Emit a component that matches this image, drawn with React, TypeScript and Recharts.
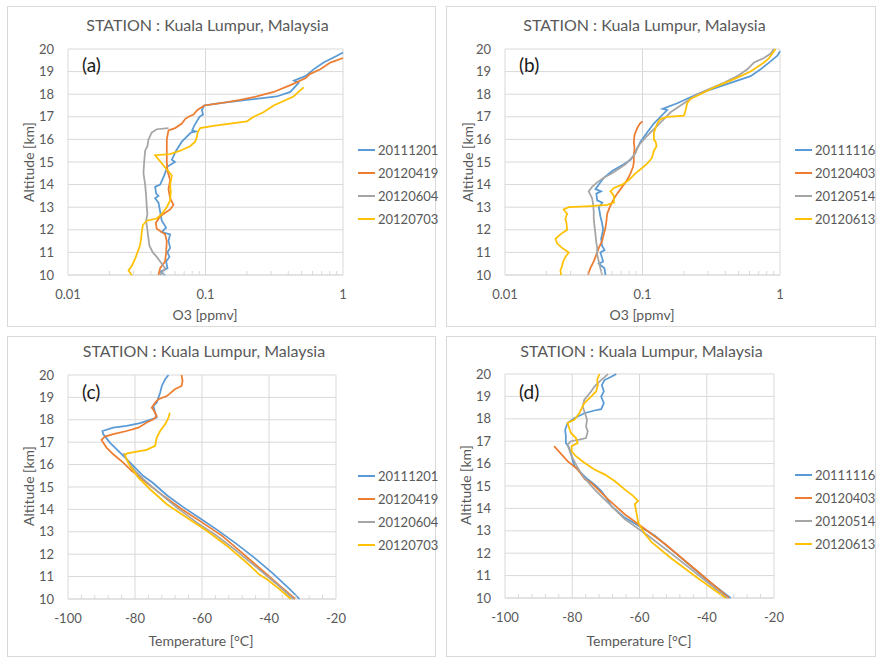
import React from 'react';
import { ScatterChart, Scatter, XAxis, YAxis, CartesianGrid, ReferenceLine } from 'recharts';

const FONT = 'Lato, "Liberation Sans", sans-serif';
const TEXT = '#595959';
const GRID = '#d9d9d9';
const COLORS = ['#5B9BD5', '#ED7D31', '#A5A5A5', '#FFC000'];

const TITLE = 'STATION : Kuala Lumpur, Malaysia';
const DATES_AC = ['20111201', '20120419', '20120604', '20120703'];
const DATES_BD = ['20111116', '20120403', '20120514', '20120613'];

const ALT_TICKS = [10, 11, 12, 13, 14, 15, 16, 17, 18, 19, 20];
const O3_TICKS = [0.01, 0.02, 0.03, 0.04, 0.05, 0.06, 0.07, 0.08, 0.09, 0.1, 0.2, 0.3, 0.4, 0.5, 0.6, 0.7, 0.8, 0.9, 1];
const O3_MAJOR = [0.01, 0.1, 1];
const T_TICKS = [-100, -96, -92, -88, -84, -80, -76, -72, -68, -64, -60, -56, -52, -48, -44, -40, -36, -32, -28, -24, -20];
const T_MAJOR = [-100, -80, -60, -40, -20];

// (a) ozone, [ppmv, km]
const A_20111201 = [[0.0508, 10.0], [0.047, 10.15], [0.0529, 10.3], [0.0517, 10.6], [0.0547, 10.8], [0.0529, 11.0], [0.0553, 11.2], [0.0538, 11.5], [0.0553, 11.8], [0.0481, 11.9], [0.0517, 12.1], [0.0481, 12.4], [0.0468, 12.8], [0.0455, 13.2], [0.043, 13.4], [0.0455, 13.5], [0.0438, 13.6], [0.043, 13.9], [0.0468, 14.0], [0.05, 14.4], [0.0529, 14.8], [0.06, 15.0], [0.0569, 15.1], [0.0611, 15.5], [0.0673, 15.9], [0.0782, 16.3], [0.085, 16.35], [0.08, 16.4], [0.0827, 16.6], [0.0904, 17.0], [0.096, 17.1], [0.094, 17.3], [0.0978, 17.5], [0.128, 17.6], [0.2, 17.75], [0.33, 17.9], [0.414, 18.1], [0.475, 18.5], [0.44, 18.6], [0.532, 18.8], [0.611, 19.1], [0.723, 19.4], [0.904, 19.7], [1.0, 19.85]];
const A_20120419 = [[0.0455, 10.0], [0.0468, 10.3], [0.0508, 10.6], [0.0517, 11.0], [0.0523, 11.5], [0.0508, 11.8], [0.0442, 12.05], [0.0435, 12.3], [0.0468, 12.6], [0.0553, 12.9], [0.0585, 13.1], [0.0553, 13.4], [0.0538, 13.8], [0.0553, 14.2], [0.0529, 14.6], [0.0523, 15.0], [0.0523, 15.5], [0.0523, 16.0], [0.0538, 16.4], [0.0601, 16.5], [0.0673, 16.7], [0.0711, 16.9], [0.0752, 17.0], [0.0818, 17.1], [0.0875, 17.3], [0.0978, 17.5], [0.128, 17.6], [0.179, 17.75], [0.236, 17.9], [0.313, 18.1], [0.414, 18.4], [0.532, 18.7], [0.578, 18.9], [0.684, 19.1], [0.809, 19.4], [1.0, 19.6]];
const A_20120604 = [[0.0468, 10.0], [0.0508, 10.3], [0.0468, 10.6], [0.0442, 10.8], [0.0414, 11.0], [0.0391, 11.3], [0.0385, 11.6], [0.0378, 12.0], [0.037, 12.4], [0.0378, 12.7], [0.0374, 13.0], [0.037, 13.5], [0.0364, 14.0], [0.0354, 14.5], [0.0358, 15.0], [0.0364, 15.5], [0.0378, 15.7], [0.0385, 16.0], [0.0406, 16.3], [0.0442, 16.45], [0.0538, 16.5]];
const A_20120703 = [[0.0291, 10.0], [0.0275, 10.2], [0.0291, 10.4], [0.0307, 10.7], [0.032, 11.0], [0.0334, 11.3], [0.034, 11.6], [0.0344, 11.9], [0.035, 12.2], [0.0374, 12.4], [0.0442, 12.5], [0.0481, 12.7], [0.0523, 13.0], [0.0553, 13.3], [0.0559, 13.7], [0.0553, 14.0], [0.0569, 14.4], [0.043, 15.3], [0.0553, 15.35], [0.0654, 15.5], [0.0773, 15.7], [0.0841, 15.9], [0.0865, 16.1], [0.0875, 16.3], [0.0915, 16.5], [0.114, 16.6], [0.151, 16.7], [0.2, 16.8], [0.224, 17.0], [0.264, 17.2], [0.313, 17.5], [0.37, 17.7], [0.437, 17.9], [0.475, 18.1], [0.517, 18.3]];

// (b) ozone, [ppmv, km]
const B_20111116 = [[0.0538, 10.0], [0.0529, 10.3], [0.0481, 10.5], [0.0517, 10.6], [0.0494, 11.0], [0.053, 11.1], [0.0508, 11.3], [0.05, 11.6], [0.0517, 12.0], [0.0508, 12.3], [0.0494, 12.6], [0.0481, 13.0], [0.051, 13.2], [0.0468, 13.3], [0.0462, 13.6], [0.05, 13.7], [0.0455, 13.8], [0.0481, 14.0], [0.0523, 14.3], [0.0601, 14.6], [0.0731, 14.9], [0.0818, 15.1], [0.0865, 15.3], [0.0915, 15.6], [0.0967, 15.9], [0.1023, 16.1], [0.111, 16.4], [0.121, 16.7], [0.135, 17.0], [0.151, 17.3], [0.14, 17.35], [0.179, 17.6], [0.211, 17.8], [0.25, 18.0], [0.313, 18.2], [0.437, 18.5], [0.611, 18.8], [0.723, 19.1], [0.832, 19.4], [0.957, 19.7], [1.0, 19.9]];
const B_20120403 = [[0.04, 10.0], [0.0418, 10.3], [0.0442, 10.6], [0.0462, 10.9], [0.0481, 11.2], [0.0508, 11.5], [0.0523, 11.8], [0.0538, 12.1], [0.0547, 12.4], [0.0553, 12.7], [0.0578, 13.0], [0.0611, 13.3], [0.0654, 13.6], [0.0711, 13.9], [0.0773, 14.2], [0.0818, 14.5], [0.0855, 14.8], [0.0865, 15.0], [0.0865, 15.3], [0.0875, 15.6], [0.0865, 15.9], [0.0875, 16.2], [0.0915, 16.5], [0.0957, 16.7], [0.1, 16.8]];
const B_20120514 = [[0.0508, 10.0], [0.0494, 10.3], [0.0481, 10.6], [0.0468, 10.9], [0.0468, 11.2], [0.046, 11.5], [0.0455, 11.8], [0.0447, 12.2], [0.0442, 12.5], [0.0442, 12.8], [0.0438, 13.1], [0.043, 13.4], [0.0406, 13.7], [0.043, 13.9], [0.0468, 14.1], [0.0523, 14.3], [0.0601, 14.5], [0.0673, 14.7], [0.0752, 14.9], [0.0841, 15.2], [0.0889, 15.4], [0.0915, 15.6], [0.0957, 15.8], [0.1023, 16.0], [0.114, 16.3], [0.128, 16.6], [0.143, 16.9], [0.16, 17.2], [0.189, 17.5], [0.224, 17.8], [0.25, 18.0], [0.296, 18.2], [0.391, 18.5], [0.489, 18.8], [0.578, 19.1], [0.647, 19.4], [0.764, 19.6], [0.855, 19.8], [0.904, 20.0]];
const B_20120613 = [[0.0256, 10.0], [0.0253, 10.2], [0.026, 10.4], [0.0265, 10.6], [0.0275, 10.8], [0.0291, 11.0], [0.026, 11.2], [0.0239, 11.4], [0.0233, 11.6], [0.0253, 11.8], [0.0283, 12.0], [0.028, 12.3], [0.0275, 12.5], [0.0283, 12.7], [0.0267, 12.9], [0.0291, 13.0], [0.0418, 13.05], [0.0553, 13.1], [0.0619, 13.2], [0.0619, 13.5], [0.0585, 13.7], [0.0619, 13.85], [0.0711, 14.0], [0.0795, 14.2], [0.0889, 14.5], [0.1023, 14.8], [0.111, 15.0], [0.1175, 15.2], [0.121, 15.5], [0.1265, 15.7], [0.1245, 15.9], [0.121, 16.0], [0.121, 16.3], [0.1245, 16.5], [0.128, 16.7], [0.135, 16.9], [0.151, 17.0], [0.2, 17.05], [0.206, 17.3], [0.211, 17.6], [0.224, 17.8], [0.264, 18.0], [0.331, 18.3], [0.437, 18.6], [0.517, 18.8], [0.611, 19.0], [0.684, 19.2], [0.764, 19.4], [0.832, 19.6], [0.879, 19.8], [0.929, 20.0]];

// (c) temperature, [degC, km]
const C_20111201 = [[-30.9, 10.0], [-33.9, 10.45], [-39.2, 11.19], [-44.5, 11.86], [-50.3, 12.53], [-55.8, 13.12], [-60.3, 13.57], [-65.5, 14.09], [-70.3, 14.61], [-74.8, 15.2], [-77.6, 15.5], [-80.5, 15.94], [-82.5, 16.24], [-85.0, 16.61], [-87.5, 16.98], [-89.5, 17.36], [-89.7, 17.5], [-86.5, 17.65], [-82.5, 17.73], [-78.5, 17.85], [-75.5, 18.0], [-73.5, 18.1], [-74.0, 18.32], [-74.5, 18.62], [-73.5, 18.77], [-73.0, 18.99], [-72.5, 19.21], [-72.0, 19.51], [-71.0, 19.81], [-70.0, 20.0]];
const C_20120419 = [[-32.2, 10.0], [-36.7, 10.59], [-42.5, 11.34], [-48.2, 12.08], [-54.0, 12.82], [-60.0, 13.42], [-66.0, 14.01], [-72.2, 14.68], [-77.3, 15.27], [-79.0, 15.5], [-81.0, 15.72], [-83.5, 16.09], [-86.5, 16.46], [-88.5, 16.76], [-90.0, 17.1], [-89.0, 17.25], [-86.5, 17.36], [-82.5, 17.5], [-79.0, 17.65], [-76.5, 17.88], [-74.5, 18.02], [-73.5, 18.17], [-74.3, 18.4], [-75.0, 18.54], [-74.0, 18.77], [-73.0, 18.92], [-70.5, 19.06], [-68.1, 19.36], [-66.1, 19.51], [-65.8, 19.73], [-66.1, 20.0]];
const C_20120604 = [[-32.7, 10.0], [-37.7, 10.67], [-43.7, 11.41], [-49.7, 12.15], [-55.6, 12.82], [-61.6, 13.42], [-67.6, 14.09], [-73.5, 14.83], [-77.5, 15.35], [-80.0, 15.72], [-82.0, 16.09], [-83.0, 16.39], [-83.5, 16.51]];
const C_20120703 = [[-33.5, 10.0], [-36.7, 10.42], [-40.7, 10.89], [-42.7, 11.07], [-46.7, 11.63], [-52.6, 12.38], [-58.6, 13.05], [-64.6, 13.64], [-70.5, 14.23], [-75.5, 14.9], [-79.0, 15.42], [-81.5, 15.94], [-82.7, 16.31], [-83.0, 16.46], [-82.0, 16.51], [-76.5, 16.66], [-74.0, 16.84], [-73.5, 17.21], [-72.5, 17.5], [-71.0, 17.8], [-70.0, 18.1], [-69.6, 18.31]];

// (d) temperature, [degC, km]
const D_20111116 = [[-32.9, 10.0], [-40.4, 10.86], [-48.4, 11.89], [-55.4, 12.78], [-59.4, 13.15], [-64.4, 13.59], [-68.4, 14.11], [-69.9, 14.48], [-71.4, 14.78], [-73.4, 15.07], [-75.4, 15.3], [-77.4, 15.59], [-79.4, 15.89], [-80.2, 16.33], [-80.9, 16.7], [-81.9, 16.92], [-81.9, 17.22], [-82.1, 17.51], [-81.4, 17.81], [-79.4, 18.03], [-76.4, 18.25], [-73.4, 18.37], [-71.4, 18.43], [-70.6, 18.7], [-71.4, 18.99], [-70.6, 19.22], [-71.2, 19.51], [-70.4, 19.73], [-68.4, 19.88], [-66.9, 20.0]];
const D_20120403 = [[-33.4, 10.0], [-42.4, 11.15], [-52.4, 12.41], [-58.4, 13.08], [-64.4, 13.74], [-69.4, 14.41], [-74.4, 15.15], [-76.2, 15.3], [-78.4, 15.74], [-81.4, 16.11], [-85.4, 16.78]];
const D_20120514 = [[-33.9, 10.0], [-42.4, 11.01], [-50.4, 11.97], [-57.4, 12.78], [-64.4, 13.52], [-69.4, 14.26], [-73.4, 14.85], [-76.4, 15.37], [-78.4, 15.81], [-79.9, 16.26], [-80.9, 16.63], [-81.4, 16.85], [-80.4, 17.0], [-77.9, 17.07], [-75.9, 17.14], [-75.4, 17.44], [-75.9, 17.66], [-75.6, 17.96], [-76.2, 18.25], [-76.9, 18.55], [-76.4, 18.85], [-74.4, 19.22], [-73.4, 19.44], [-72.4, 19.59], [-71.4, 19.73], [-70.2, 19.88], [-69.4, 20.0]];
const D_20120613 = [[-34.4, 10.0], [-42.4, 10.86], [-50.4, 11.75], [-56.4, 12.49], [-58.4, 12.86], [-60.4, 13.37], [-60.9, 13.82], [-61.4, 14.19], [-60.4, 14.33], [-61.9, 14.56], [-64.4, 14.85], [-67.4, 15.22], [-70.4, 15.52], [-73.4, 15.74], [-76.4, 16.04], [-78.9, 16.33], [-80.2, 16.55], [-80.2, 16.78], [-78.4, 16.92], [-78.9, 17.14], [-80.4, 17.37], [-80.9, 17.59], [-81.4, 17.81], [-79.4, 17.96], [-77.9, 18.25], [-76.4, 18.7], [-74.4, 18.99], [-72.9, 19.22], [-72.4, 19.51], [-72.6, 19.73], [-71.9, 20.0]];

const toPoints = (rows: number[][]) => rows.map(([x, y]) => ({ x, y }));

const EmptyShape = () => <g />;

function BottomTick(props: any) {
  const { x, y, payload, majors } = props;
  const v = payload.value;
  if (majors.includes(v)) {
    return (
      <text x={x} y={y + 24} textAnchor="middle" fill={TEXT} fontSize={13} fontFamily={FONT}>
        {String(v)}
      </text>
    );
  }
  return <line x1={x} x2={x} y1={y} y2={y - 4} stroke={GRID} />;
}

const PANELS = [
  {
    tag: '(a)', kind: 'o3', names: DATES_AC, series: [A_20111201, A_20120419, A_20120604, A_20120703],
    box: [7, 6, 430, 322], plot: [68, 49, 343, 275], legend: [358, 138],
    titleY: 24, tagPos: [82, 64], yLabel: [28, 162], xLabel: [205, 314], xTitle: 'O3 [ppmv]',
  },
  {
    tag: '(b)', kind: 'o3', names: DATES_BD, series: [B_20111116, B_20120403, B_20120514, B_20120613],
    box: [446, 6, 431, 322], plot: [505, 49, 780, 275], legend: [795, 138],
    titleY: 24, tagPos: [519, 64], yLabel: [467, 162], xLabel: [642, 314], xTitle: 'O3 [ppmv]',
  },
  {
    tag: '(c)', kind: 't', names: DATES_AC, series: [C_20111201, C_20120419, C_20120604, C_20120703],
    box: [7, 336, 430, 322], plot: [68, 375, 336, 599], legend: [358, 464],
    titleY: 350, tagPos: [82, 391], yLabel: [28, 486], xLabel: [201, 640], xTitle: 'Temperature [\u00B0C]',
  },
  {
    tag: '(d)', kind: 't', names: DATES_BD, series: [D_20111116, D_20120403, D_20120514, D_20120613],
    box: [446, 336, 431, 322], plot: [505, 374, 774, 598], legend: [795, 463],
    titleY: 350, tagPos: [519, 391], yLabel: [465, 485], xLabel: [639, 640], xTitle: 'Temperature [\u00B0C]',
  },
];

function Panel({ p }: { p: any }) {
  const [bl, bt, bw, bh] = p.box;
  const [pl, pt, pr, pb] = p.plot;
  const isO3 = p.kind === 'o3';
  const majors = isO3 ? O3_MAJOR : T_MAJOR;
  const plotCenter = (pl + pr) / 2;
  return (
    <>
      <div style={{ position: 'absolute', left: bl, top: bt, width: bw - 1, height: bh - 1, border: `1px solid ${GRID}`, boxSizing: 'border-box' }} />
      <div style={{ position: 'absolute', left: bl, top: bt }}>
        <ScatterChart
          width={bw}
          height={bh}
          margin={{ top: pt - bt, right: bl + bw - pr, bottom: 0, left: 0 }}
        >
          <CartesianGrid vertical={false} stroke={GRID} />
          <XAxis
            type="number"
            dataKey="x"
            scale={isO3 ? 'log' : 'linear'}
            domain={isO3 ? [0.01, 1] : [-100, -20]}
            ticks={isO3 ? O3_TICKS : T_TICKS}
            interval={0}
            tickLine={false}
            tickSize={0}
            tickMargin={0}
            axisLine={{ stroke: GRID }}
            height={bt + bh - pb}
            tick={<BottomTick majors={majors} />}
          />
          <YAxis
            type="number"
            dataKey="y"
            domain={[10, 20]}
            ticks={ALT_TICKS}
            interval={0}
            tickLine={false}
            axisLine={false}
            tickSize={0}
            tickMargin={14}
            width={pl - bl}
            tick={{ fill: TEXT, fontSize: 13, fontFamily: FONT }}
          />
          {majors.map((m) => (
            <ReferenceLine key={m} x={m} stroke={GRID} />
          ))}
          {p.series.map((s: number[][], i: number) => (
            <Scatter
              key={p.names[i]}
              name={p.names[i]}
              data={toPoints(s)}
              fill={COLORS[i]}
              line={{ stroke: COLORS[i], strokeWidth: 1.75 }}
              lineJointType="linear"
              shape={EmptyShape}
              isAnimationActive={false}
            />
          ))}
        </ScatterChart>
      </div>
      <div style={{ position: 'absolute', left: plotCenter + 2, top: p.titleY, transform: 'translate(-50%, -50%)', whiteSpace: 'nowrap', fontFamily: FONT, fontSize: 16, color: TEXT }}>
        {TITLE}
      </div>
      <div style={{ position: 'absolute', left: p.tagPos[0], top: p.tagPos[1], transform: 'translateY(-50%)', fontFamily: FONT, fontSize: 19, color: '#1a1a1a' }}>
        {p.tag}
      </div>
      <div style={{ position: 'absolute', left: p.yLabel[0], top: p.yLabel[1], transform: 'translate(-50%, -50%) rotate(-90deg)', whiteSpace: 'nowrap', fontFamily: FONT, fontSize: 14, color: TEXT }}>
        Altitude [km]
      </div>
      <div style={{ position: 'absolute', left: p.xLabel[0], top: p.xLabel[1], transform: 'translate(-50%, -50%)', whiteSpace: 'nowrap', fontFamily: FONT, fontSize: 14, color: TEXT }}>
        {p.xTitle}
      </div>
      <div style={{ position: 'absolute', left: p.legend[0], top: p.legend[1], fontFamily: FONT, fontSize: 13, color: TEXT }}>
        {p.names.map((n: string, i: number) => (
          <div key={n} style={{ height: 23, display: 'flex', alignItems: 'center' }}>
            <svg width={18} height={4} style={{ marginRight: 2 }}>
              <line x1={0} x2={17} y1={2} y2={2} stroke={COLORS[i]} strokeWidth={2} />
            </svg>
            <span>{n}</span>
          </div>
        ))}
      </div>
    </>
  );
}

export default function App() {
  return (
    <div style={{ position: 'absolute', left: 0, top: 0, width: 877, height: 657, background: '#fff', overflow: 'hidden' }}>
      {PANELS.map((p) => (
        <Panel key={p.tag} p={p} />
      ))}
    </div>
  );
}
